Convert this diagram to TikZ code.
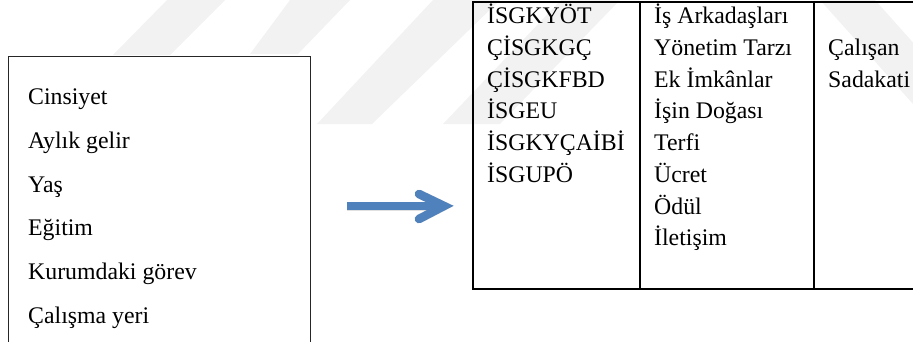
\documentclass[tikz,border=0pt]{standalone}
\usepackage{fontspec}
\setmainfont{Liberation Serif}
\definecolor{arrowblue}{HTML}{4F81BD}
\tikzset{
  wm/.style={fill=black!5, draw=none},
  lbl/.style={anchor=base west, inner sep=0pt, font=\fontsize{23.8}{28}\selectfont},
  leftframe/.style={draw=black!85, line width=1.3pt},
  tblframe/.style={draw=black, line width=2.3pt},
  bluearrow/.style={draw=arrowblue, line width=8.5pt},
  arrowshadow/.style={draw=black, opacity=0.12, line width=9pt}
}
\begin{document}
\begin{tikzpicture}[x=1pt,y=-1pt]
\useasboundingbox (0,0) rectangle (913,341);
\clip (0,0) rectangle (913,341);
% watermark stripes
\fill[wm] (167,0) -- (225,0) -- (170,55) -- (113,55) -- cycle;
\fill[wm] (290,0) -- (350,0) -- (298,54) -- (250,54) -- cycle;
\fill[wm] (433,0) -- (500,0) -- (372,124) -- (317,124) -- cycle;
\fill[wm] (561,0) -- (620,0) -- (500,124) -- (443,124) -- cycle;
\fill[wm] (820,0) -- (875,0) -- (985,123) -- (930,123) -- cycle;

% left box (open at the bottom, cut by the page)
\node[leftframe, rectangle, anchor=north west, minimum width=302pt, minimum height=320pt, inner sep=0pt] (leftbox) at (8,56) {};
\node[lbl] (cins) at (28,104) {Cinsiyet};
\node[lbl] (gelir) at (28,148) {Aylık gelir};
\node[lbl] (yas) at (28,192) {Yaş};
\node[lbl] (egitim) at (28,235) {Eğitim};
\node[lbl] (gorev) at (28,279) {Kurumdaki görev};
\node[lbl] (yer) at (28,323) {Çalışma yeri};

% arrow
\coordinate (arrS) at (347,206);
\coordinate (arrM) at (440,206);
\coordinate (arrV) at (444,206);
\coordinate (armA) at (419,194);
\coordinate (armB) at (419,219);
\begin{scope}[shift={(2,3)}]
  \draw[arrowshadow] (arrS) -- (arrM);
  \draw[arrowshadow, line cap=round, line join=miter] (armA) -- (arrV) -- (armB);
\end{scope}
\draw[bluearrow] (arrS) -- (arrM);
\draw[bluearrow, line cap=round, line join=miter] (armA) -- (arrV) -- (armB);

% table
\node[tblframe, rectangle, anchor=north west, minimum width=470pt, minimum height=287pt, inner sep=0pt] (table) at (472,1) {};
\coordinate (d1t) at (640,1);
\coordinate (d1b) at (640,288);
\coordinate (d2t) at (814,1);
\coordinate (d2b) at (814,288);
\draw[tblframe] (d1t) -- (d1b);
\draw[tblframe] (d2t) -- (d2b);

\node[lbl] (a1) at (487,23) {İSGKYÖT};
\node[lbl] (a2) at (487,55) {ÇİSGKGÇ};
\node[lbl] (a3) at (487,87) {ÇİSGKFBD};
\node[lbl] (a4) at (487,118) {İSGEU};
\node[lbl] (a5) at (487,150) {İSGKYÇAİBİ};
\node[lbl] (a6) at (487,182) {İSGUPÖ};

\node[lbl] (b1) at (654,23) {İş Arkadaşları};
\node[lbl] (b2) at (654,55) {Yönetim Tarzı};
\node[lbl] (b3) at (654,87) {Ek İmkânlar};
\node[lbl] (b4) at (654,118) {İşin Doğası};
\node[lbl] (b5) at (654,150) {Terfi};
\node[lbl] (b6) at (654,182) {Ücret};
\node[lbl] (b7) at (654,214) {Ödül};
\node[lbl] (b8) at (654,245) {İletişim};

\node[lbl] (c1) at (828,55) {Çalışan};
\node[lbl] (c2) at (828,87) {Sadakati};
\end{tikzpicture}
\end{document}
